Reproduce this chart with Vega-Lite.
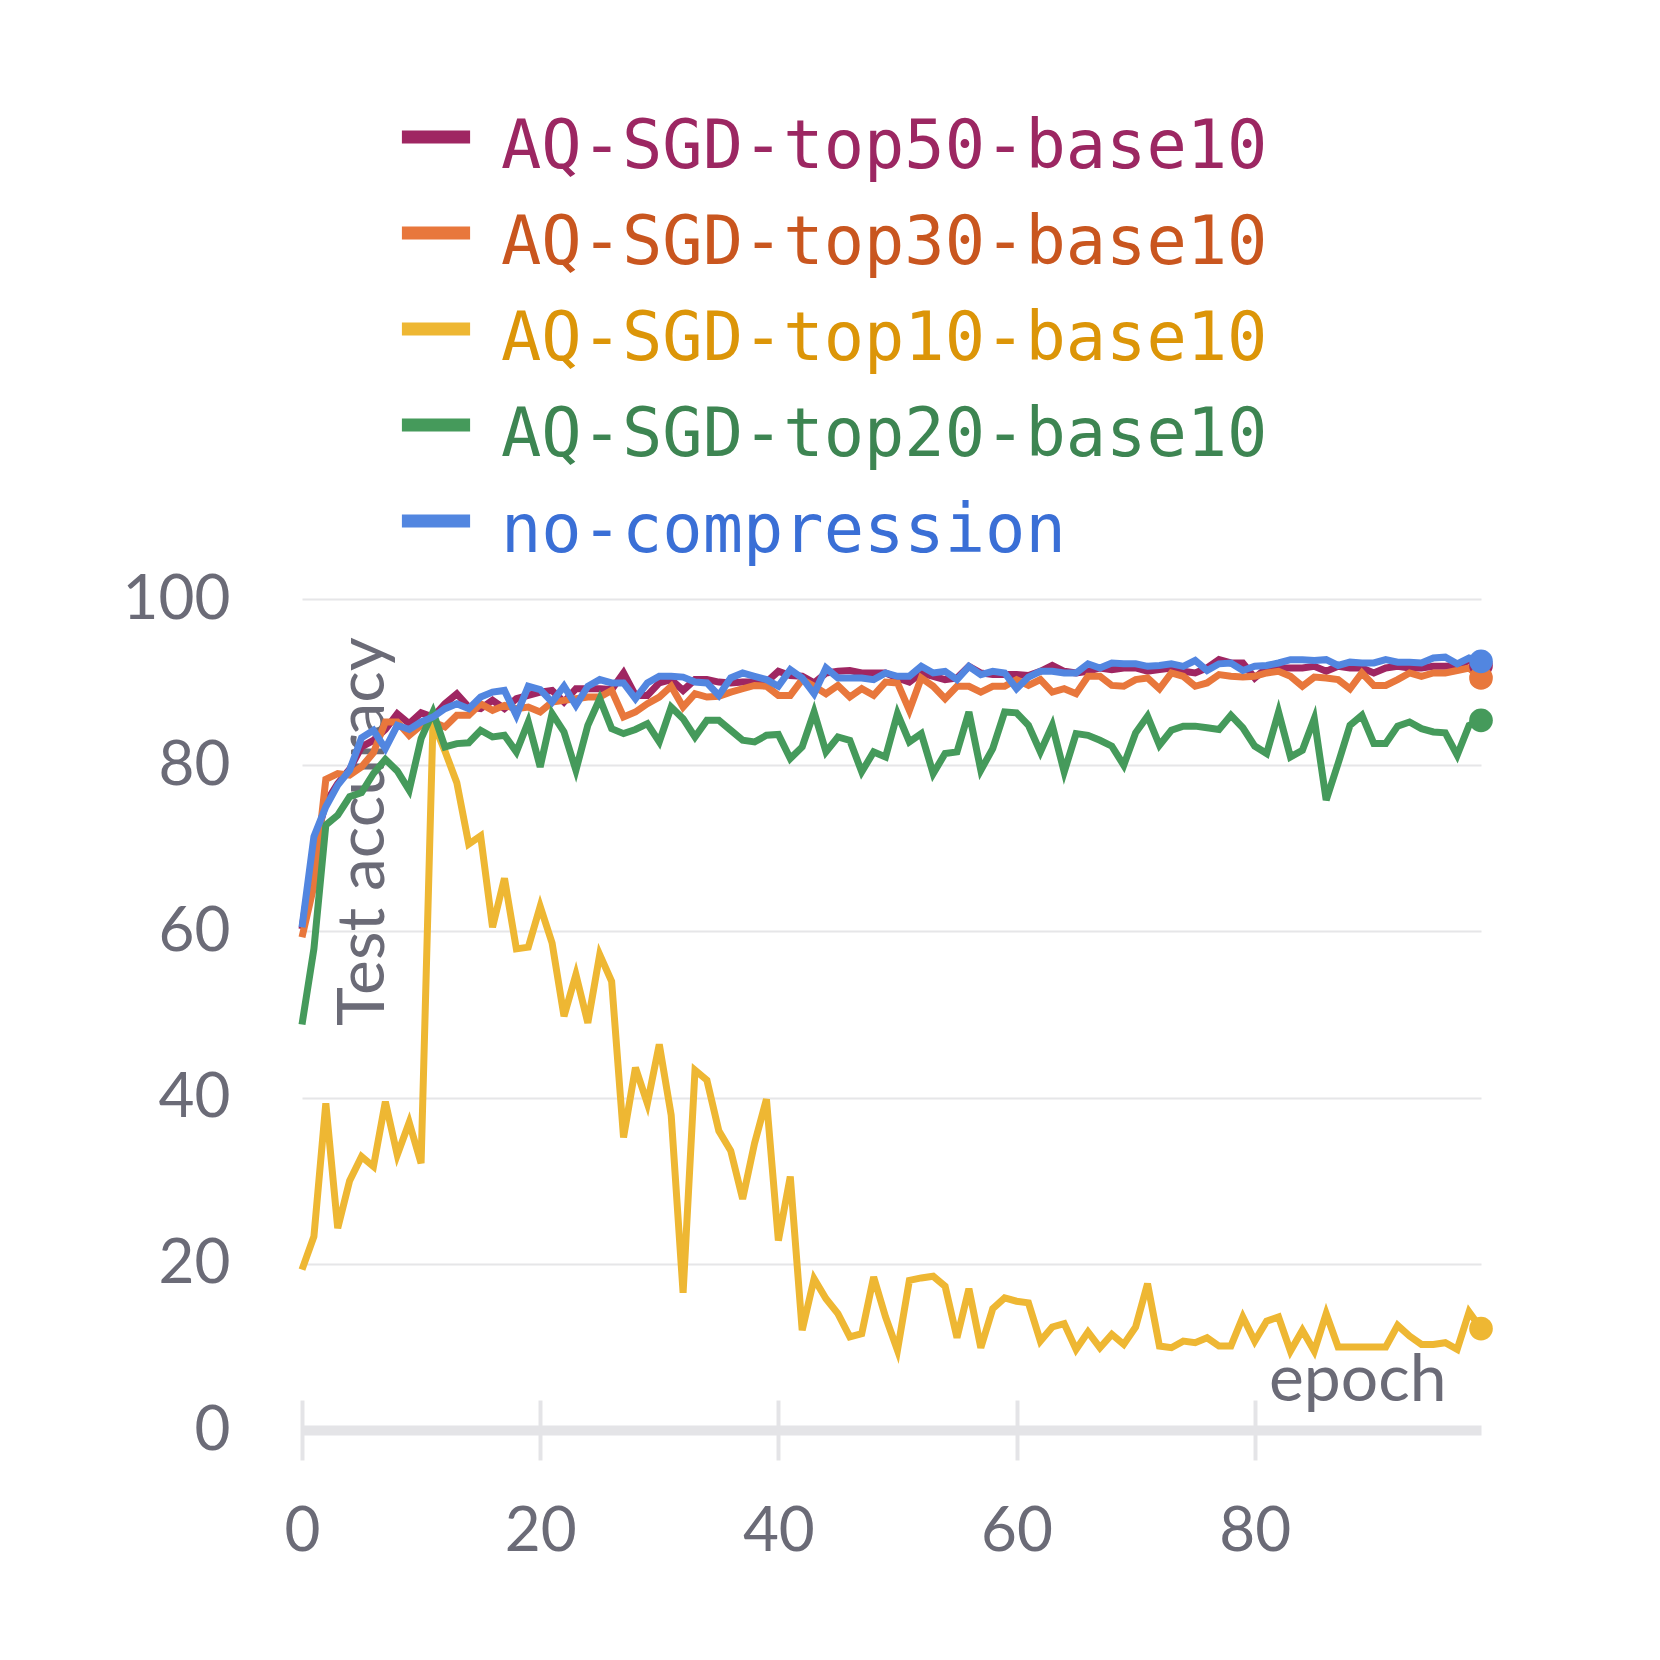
{
  "$schema": "https://vega.github.io/schema/vega-lite/v6.json",
  "width": 1179,
  "height": 831,
  "autosize": {"type": "none"},
  "padding": {"left": 302, "top": 599, "right": 179, "bottom": 230},
  "background": "white",
  "data": {
    "values": [
      {"run":"AQ-SGD-top50-base10","epoch":0,"acc":60.3},{"run":"AQ-SGD-top50-base10","epoch":1,"acc":70.0},{"run":"AQ-SGD-top50-base10","epoch":2,"acc":75.5},{"run":"AQ-SGD-top50-base10","epoch":3,"acc":77.8},{"run":"AQ-SGD-top50-base10","epoch":4,"acc":79.5},
      {"run":"AQ-SGD-top50-base10","epoch":5,"acc":82.2},{"run":"AQ-SGD-top50-base10","epoch":6,"acc":83.0},{"run":"AQ-SGD-top50-base10","epoch":7,"acc":84.3},{"run":"AQ-SGD-top50-base10","epoch":8,"acc":86.2},{"run":"AQ-SGD-top50-base10","epoch":9,"acc":85.0},
      {"run":"AQ-SGD-top50-base10","epoch":10,"acc":86.3},{"run":"AQ-SGD-top50-base10","epoch":11,"acc":85.8},{"run":"AQ-SGD-top50-base10","epoch":12,"acc":87.4},{"run":"AQ-SGD-top50-base10","epoch":13,"acc":88.6},{"run":"AQ-SGD-top50-base10","epoch":14,"acc":87.0},
      {"run":"AQ-SGD-top50-base10","epoch":15,"acc":86.8},{"run":"AQ-SGD-top50-base10","epoch":16,"acc":87.8},{"run":"AQ-SGD-top50-base10","epoch":17,"acc":86.8},{"run":"AQ-SGD-top50-base10","epoch":18,"acc":88.0},{"run":"AQ-SGD-top50-base10","epoch":19,"acc":88.4},
      {"run":"AQ-SGD-top50-base10","epoch":20,"acc":88.8},{"run":"AQ-SGD-top50-base10","epoch":21,"acc":89.0},{"run":"AQ-SGD-top50-base10","epoch":22,"acc":87.6},{"run":"AQ-SGD-top50-base10","epoch":23,"acc":89.2},{"run":"AQ-SGD-top50-base10","epoch":24,"acc":89.2},
      {"run":"AQ-SGD-top50-base10","epoch":25,"acc":89.2},{"run":"AQ-SGD-top50-base10","epoch":26,"acc":89.1},{"run":"AQ-SGD-top50-base10","epoch":27,"acc":91.1},{"run":"AQ-SGD-top50-base10","epoch":28,"acc":88.4},{"run":"AQ-SGD-top50-base10","epoch":29,"acc":88.4},
      {"run":"AQ-SGD-top50-base10","epoch":30,"acc":89.9},{"run":"AQ-SGD-top50-base10","epoch":31,"acc":90.3},{"run":"AQ-SGD-top50-base10","epoch":32,"acc":89.0},{"run":"AQ-SGD-top50-base10","epoch":33,"acc":90.3},{"run":"AQ-SGD-top50-base10","epoch":34,"acc":90.3},
      {"run":"AQ-SGD-top50-base10","epoch":35,"acc":90.0},{"run":"AQ-SGD-top50-base10","epoch":36,"acc":89.9},{"run":"AQ-SGD-top50-base10","epoch":37,"acc":90.0},{"run":"AQ-SGD-top50-base10","epoch":38,"acc":90.0},{"run":"AQ-SGD-top50-base10","epoch":39,"acc":90.0},
      {"run":"AQ-SGD-top50-base10","epoch":40,"acc":91.3},{"run":"AQ-SGD-top50-base10","epoch":41,"acc":90.8},{"run":"AQ-SGD-top50-base10","epoch":42,"acc":90.7},{"run":"AQ-SGD-top50-base10","epoch":43,"acc":89.9},{"run":"AQ-SGD-top50-base10","epoch":44,"acc":91.1},
      {"run":"AQ-SGD-top50-base10","epoch":45,"acc":91.3},{"run":"AQ-SGD-top50-base10","epoch":46,"acc":91.4},{"run":"AQ-SGD-top50-base10","epoch":47,"acc":91.1},{"run":"AQ-SGD-top50-base10","epoch":48,"acc":91.1},{"run":"AQ-SGD-top50-base10","epoch":49,"acc":91.1},
      {"run":"AQ-SGD-top50-base10","epoch":50,"acc":90.5},{"run":"AQ-SGD-top50-base10","epoch":51,"acc":90.0},{"run":"AQ-SGD-top50-base10","epoch":52,"acc":91.1},{"run":"AQ-SGD-top50-base10","epoch":53,"acc":90.7},{"run":"AQ-SGD-top50-base10","epoch":54,"acc":90.3},
      {"run":"AQ-SGD-top50-base10","epoch":55,"acc":90.5},{"run":"AQ-SGD-top50-base10","epoch":56,"acc":91.9},{"run":"AQ-SGD-top50-base10","epoch":57,"acc":91.1},{"run":"AQ-SGD-top50-base10","epoch":58,"acc":90.9},{"run":"AQ-SGD-top50-base10","epoch":59,"acc":90.9},
      {"run":"AQ-SGD-top50-base10","epoch":60,"acc":90.9},{"run":"AQ-SGD-top50-base10","epoch":61,"acc":90.8},{"run":"AQ-SGD-top50-base10","epoch":62,"acc":91.3},{"run":"AQ-SGD-top50-base10","epoch":63,"acc":92.0},{"run":"AQ-SGD-top50-base10","epoch":64,"acc":91.3},
      {"run":"AQ-SGD-top50-base10","epoch":65,"acc":91.1},{"run":"AQ-SGD-top50-base10","epoch":66,"acc":91.3},{"run":"AQ-SGD-top50-base10","epoch":67,"acc":91.7},{"run":"AQ-SGD-top50-base10","epoch":68,"acc":91.5},{"run":"AQ-SGD-top50-base10","epoch":69,"acc":91.7},
      {"run":"AQ-SGD-top50-base10","epoch":70,"acc":91.7},{"run":"AQ-SGD-top50-base10","epoch":71,"acc":91.3},{"run":"AQ-SGD-top50-base10","epoch":72,"acc":91.5},{"run":"AQ-SGD-top50-base10","epoch":73,"acc":91.7},{"run":"AQ-SGD-top50-base10","epoch":74,"acc":91.3},
      {"run":"AQ-SGD-top50-base10","epoch":75,"acc":91.1},{"run":"AQ-SGD-top50-base10","epoch":76,"acc":91.7},{"run":"AQ-SGD-top50-base10","epoch":77,"acc":92.7},{"run":"AQ-SGD-top50-base10","epoch":78,"acc":92.3},{"run":"AQ-SGD-top50-base10","epoch":79,"acc":92.3},
      {"run":"AQ-SGD-top50-base10","epoch":80,"acc":90.5},{"run":"AQ-SGD-top50-base10","epoch":81,"acc":91.7},{"run":"AQ-SGD-top50-base10","epoch":82,"acc":91.7},{"run":"AQ-SGD-top50-base10","epoch":83,"acc":91.7},{"run":"AQ-SGD-top50-base10","epoch":84,"acc":91.7},
      {"run":"AQ-SGD-top50-base10","epoch":85,"acc":91.9},{"run":"AQ-SGD-top50-base10","epoch":86,"acc":91.3},{"run":"AQ-SGD-top50-base10","epoch":87,"acc":91.9},{"run":"AQ-SGD-top50-base10","epoch":88,"acc":91.7},{"run":"AQ-SGD-top50-base10","epoch":89,"acc":91.7},
      {"run":"AQ-SGD-top50-base10","epoch":90,"acc":91.1},{"run":"AQ-SGD-top50-base10","epoch":91,"acc":91.7},{"run":"AQ-SGD-top50-base10","epoch":92,"acc":91.9},{"run":"AQ-SGD-top50-base10","epoch":93,"acc":91.7},{"run":"AQ-SGD-top50-base10","epoch":94,"acc":91.7},
      {"run":"AQ-SGD-top50-base10","epoch":95,"acc":91.9},{"run":"AQ-SGD-top50-base10","epoch":96,"acc":91.9},{"run":"AQ-SGD-top50-base10","epoch":97,"acc":92.0},{"run":"AQ-SGD-top50-base10","epoch":98,"acc":92.6},{"run":"AQ-SGD-top50-base10","epoch":99,"acc":92.0},

      {"run":"AQ-SGD-top30-base10","epoch":0,"acc":59.3},{"run":"AQ-SGD-top30-base10","epoch":1,"acc":65.5},{"run":"AQ-SGD-top30-base10","epoch":2,"acc":78.3},{"run":"AQ-SGD-top30-base10","epoch":3,"acc":79.0},{"run":"AQ-SGD-top30-base10","epoch":4,"acc":78.8},
      {"run":"AQ-SGD-top30-base10","epoch":5,"acc":79.8},{"run":"AQ-SGD-top30-base10","epoch":6,"acc":81.5},{"run":"AQ-SGD-top30-base10","epoch":7,"acc":85.2},{"run":"AQ-SGD-top30-base10","epoch":8,"acc":85.2},{"run":"AQ-SGD-top30-base10","epoch":9,"acc":83.6},
      {"run":"AQ-SGD-top30-base10","epoch":10,"acc":84.8},{"run":"AQ-SGD-top30-base10","epoch":11,"acc":85.2},{"run":"AQ-SGD-top30-base10","epoch":12,"acc":84.6},{"run":"AQ-SGD-top30-base10","epoch":13,"acc":86.0},{"run":"AQ-SGD-top30-base10","epoch":14,"acc":86.0},
      {"run":"AQ-SGD-top30-base10","epoch":15,"acc":87.4},{"run":"AQ-SGD-top30-base10","epoch":16,"acc":86.6},{"run":"AQ-SGD-top30-base10","epoch":17,"acc":87.2},{"run":"AQ-SGD-top30-base10","epoch":18,"acc":86.8},{"run":"AQ-SGD-top30-base10","epoch":19,"acc":87.0},
      {"run":"AQ-SGD-top30-base10","epoch":20,"acc":86.4},{"run":"AQ-SGD-top30-base10","epoch":21,"acc":87.6},{"run":"AQ-SGD-top30-base10","epoch":22,"acc":87.8},{"run":"AQ-SGD-top30-base10","epoch":23,"acc":88.0},{"run":"AQ-SGD-top30-base10","epoch":24,"acc":88.2},
      {"run":"AQ-SGD-top30-base10","epoch":25,"acc":88.2},{"run":"AQ-SGD-top30-base10","epoch":26,"acc":89.0},{"run":"AQ-SGD-top30-base10","epoch":27,"acc":85.8},{"run":"AQ-SGD-top30-base10","epoch":28,"acc":86.4},{"run":"AQ-SGD-top30-base10","epoch":29,"acc":87.4},
      {"run":"AQ-SGD-top30-base10","epoch":30,"acc":88.2},{"run":"AQ-SGD-top30-base10","epoch":31,"acc":89.5},{"run":"AQ-SGD-top30-base10","epoch":32,"acc":87.0},{"run":"AQ-SGD-top30-base10","epoch":33,"acc":88.6},{"run":"AQ-SGD-top30-base10","epoch":34,"acc":88.2},
      {"run":"AQ-SGD-top30-base10","epoch":35,"acc":88.3},{"run":"AQ-SGD-top30-base10","epoch":36,"acc":88.8},{"run":"AQ-SGD-top30-base10","epoch":37,"acc":89.2},{"run":"AQ-SGD-top30-base10","epoch":38,"acc":89.6},{"run":"AQ-SGD-top30-base10","epoch":39,"acc":89.5},
      {"run":"AQ-SGD-top30-base10","epoch":40,"acc":88.4},{"run":"AQ-SGD-top30-base10","epoch":41,"acc":88.4},{"run":"AQ-SGD-top30-base10","epoch":42,"acc":90.3},{"run":"AQ-SGD-top30-base10","epoch":43,"acc":89.5},{"run":"AQ-SGD-top30-base10","epoch":44,"acc":88.6},
      {"run":"AQ-SGD-top30-base10","epoch":45,"acc":89.6},{"run":"AQ-SGD-top30-base10","epoch":46,"acc":88.2},{"run":"AQ-SGD-top30-base10","epoch":47,"acc":89.2},{"run":"AQ-SGD-top30-base10","epoch":48,"acc":88.4},{"run":"AQ-SGD-top30-base10","epoch":49,"acc":90.0},
      {"run":"AQ-SGD-top30-base10","epoch":50,"acc":89.9},{"run":"AQ-SGD-top30-base10","epoch":51,"acc":86.6},{"run":"AQ-SGD-top30-base10","epoch":52,"acc":90.5},{"run":"AQ-SGD-top30-base10","epoch":53,"acc":89.5},{"run":"AQ-SGD-top30-base10","epoch":54,"acc":88.0},
      {"run":"AQ-SGD-top30-base10","epoch":55,"acc":89.5},{"run":"AQ-SGD-top30-base10","epoch":56,"acc":89.5},{"run":"AQ-SGD-top30-base10","epoch":57,"acc":88.8},{"run":"AQ-SGD-top30-base10","epoch":58,"acc":89.5},{"run":"AQ-SGD-top30-base10","epoch":59,"acc":89.5},
      {"run":"AQ-SGD-top30-base10","epoch":60,"acc":90.3},{"run":"AQ-SGD-top30-base10","epoch":61,"acc":89.6},{"run":"AQ-SGD-top30-base10","epoch":62,"acc":90.3},{"run":"AQ-SGD-top30-base10","epoch":63,"acc":88.8},{"run":"AQ-SGD-top30-base10","epoch":64,"acc":89.2},
      {"run":"AQ-SGD-top30-base10","epoch":65,"acc":88.6},{"run":"AQ-SGD-top30-base10","epoch":66,"acc":90.7},{"run":"AQ-SGD-top30-base10","epoch":67,"acc":90.7},{"run":"AQ-SGD-top30-base10","epoch":68,"acc":89.6},{"run":"AQ-SGD-top30-base10","epoch":69,"acc":89.5},
      {"run":"AQ-SGD-top30-base10","epoch":70,"acc":90.3},{"run":"AQ-SGD-top30-base10","epoch":71,"acc":90.5},{"run":"AQ-SGD-top30-base10","epoch":72,"acc":89.2},{"run":"AQ-SGD-top30-base10","epoch":73,"acc":91.1},{"run":"AQ-SGD-top30-base10","epoch":74,"acc":90.7},
      {"run":"AQ-SGD-top30-base10","epoch":75,"acc":89.5},{"run":"AQ-SGD-top30-base10","epoch":76,"acc":89.9},{"run":"AQ-SGD-top30-base10","epoch":77,"acc":90.9},{"run":"AQ-SGD-top30-base10","epoch":78,"acc":90.7},{"run":"AQ-SGD-top30-base10","epoch":79,"acc":90.6},
      {"run":"AQ-SGD-top30-base10","epoch":80,"acc":90.7},{"run":"AQ-SGD-top30-base10","epoch":81,"acc":91.1},{"run":"AQ-SGD-top30-base10","epoch":82,"acc":91.3},{"run":"AQ-SGD-top30-base10","epoch":83,"acc":90.7},{"run":"AQ-SGD-top30-base10","epoch":84,"acc":89.5},
      {"run":"AQ-SGD-top30-base10","epoch":85,"acc":90.6},{"run":"AQ-SGD-top30-base10","epoch":86,"acc":90.5},{"run":"AQ-SGD-top30-base10","epoch":87,"acc":90.3},{"run":"AQ-SGD-top30-base10","epoch":88,"acc":89.2},{"run":"AQ-SGD-top30-base10","epoch":89,"acc":91.1},
      {"run":"AQ-SGD-top30-base10","epoch":90,"acc":89.6},{"run":"AQ-SGD-top30-base10","epoch":91,"acc":89.6},{"run":"AQ-SGD-top30-base10","epoch":92,"acc":90.3},{"run":"AQ-SGD-top30-base10","epoch":93,"acc":91.1},{"run":"AQ-SGD-top30-base10","epoch":94,"acc":90.7},
      {"run":"AQ-SGD-top30-base10","epoch":95,"acc":91.1},{"run":"AQ-SGD-top30-base10","epoch":96,"acc":91.1},{"run":"AQ-SGD-top30-base10","epoch":97,"acc":91.4},{"run":"AQ-SGD-top30-base10","epoch":98,"acc":91.7},{"run":"AQ-SGD-top30-base10","epoch":99,"acc":90.5},

      {"run":"AQ-SGD-top10-base10","epoch":0,"acc":19.3},{"run":"AQ-SGD-top10-base10","epoch":1,"acc":23.3},{"run":"AQ-SGD-top10-base10","epoch":2,"acc":39.3},{"run":"AQ-SGD-top10-base10","epoch":3,"acc":24.3},{"run":"AQ-SGD-top10-base10","epoch":4,"acc":30.0},
      {"run":"AQ-SGD-top10-base10","epoch":5,"acc":32.9},{"run":"AQ-SGD-top10-base10","epoch":6,"acc":31.7},{"run":"AQ-SGD-top10-base10","epoch":7,"acc":39.5},{"run":"AQ-SGD-top10-base10","epoch":8,"acc":33.1},{"run":"AQ-SGD-top10-base10","epoch":9,"acc":37.0},
      {"run":"AQ-SGD-top10-base10","epoch":10,"acc":32.1},{"run":"AQ-SGD-top10-base10","epoch":11,"acc":85.2},{"run":"AQ-SGD-top10-base10","epoch":12,"acc":81.7},{"run":"AQ-SGD-top10-base10","epoch":13,"acc":77.9},{"run":"AQ-SGD-top10-base10","epoch":14,"acc":70.5},
      {"run":"AQ-SGD-top10-base10","epoch":15,"acc":71.5},{"run":"AQ-SGD-top10-base10","epoch":16,"acc":60.5},{"run":"AQ-SGD-top10-base10","epoch":17,"acc":66.4},{"run":"AQ-SGD-top10-base10","epoch":18,"acc":57.9},{"run":"AQ-SGD-top10-base10","epoch":19,"acc":58.1},
      {"run":"AQ-SGD-top10-base10","epoch":20,"acc":63.0},{"run":"AQ-SGD-top10-base10","epoch":21,"acc":58.6},{"run":"AQ-SGD-top10-base10","epoch":22,"acc":49.8},{"run":"AQ-SGD-top10-base10","epoch":23,"acc":54.8},{"run":"AQ-SGD-top10-base10","epoch":24,"acc":49.0},
      {"run":"AQ-SGD-top10-base10","epoch":25,"acc":57.2},{"run":"AQ-SGD-top10-base10","epoch":26,"acc":54.0},{"run":"AQ-SGD-top10-base10","epoch":27,"acc":35.2},{"run":"AQ-SGD-top10-base10","epoch":28,"acc":43.6},{"run":"AQ-SGD-top10-base10","epoch":29,"acc":39.3},
      {"run":"AQ-SGD-top10-base10","epoch":30,"acc":46.4},{"run":"AQ-SGD-top10-base10","epoch":31,"acc":37.9},{"run":"AQ-SGD-top10-base10","epoch":32,"acc":16.5},{"run":"AQ-SGD-top10-base10","epoch":33,"acc":43.3},{"run":"AQ-SGD-top10-base10","epoch":34,"acc":42.1},
      {"run":"AQ-SGD-top10-base10","epoch":35,"acc":36.0},{"run":"AQ-SGD-top10-base10","epoch":36,"acc":33.6},{"run":"AQ-SGD-top10-base10","epoch":37,"acc":27.8},{"run":"AQ-SGD-top10-base10","epoch":38,"acc":34.5},{"run":"AQ-SGD-top10-base10","epoch":39,"acc":39.8},
      {"run":"AQ-SGD-top10-base10","epoch":40,"acc":22.8},{"run":"AQ-SGD-top10-base10","epoch":41,"acc":30.5},{"run":"AQ-SGD-top10-base10","epoch":42,"acc":12.0},{"run":"AQ-SGD-top10-base10","epoch":43,"acc":18.2},{"run":"AQ-SGD-top10-base10","epoch":44,"acc":15.8},
      {"run":"AQ-SGD-top10-base10","epoch":45,"acc":14.0},{"run":"AQ-SGD-top10-base10","epoch":46,"acc":11.2},{"run":"AQ-SGD-top10-base10","epoch":47,"acc":11.6},{"run":"AQ-SGD-top10-base10","epoch":48,"acc":18.4},{"run":"AQ-SGD-top10-base10","epoch":49,"acc":13.6},
      {"run":"AQ-SGD-top10-base10","epoch":50,"acc":9.6},{"run":"AQ-SGD-top10-base10","epoch":51,"acc":18.0},{"run":"AQ-SGD-top10-base10","epoch":52,"acc":18.3},{"run":"AQ-SGD-top10-base10","epoch":53,"acc":18.5},{"run":"AQ-SGD-top10-base10","epoch":54,"acc":17.3},
      {"run":"AQ-SGD-top10-base10","epoch":55,"acc":11.1},{"run":"AQ-SGD-top10-base10","epoch":56,"acc":17.0},{"run":"AQ-SGD-top10-base10","epoch":57,"acc":9.9},{"run":"AQ-SGD-top10-base10","epoch":58,"acc":14.6},{"run":"AQ-SGD-top10-base10","epoch":59,"acc":15.9},
      {"run":"AQ-SGD-top10-base10","epoch":60,"acc":15.5},{"run":"AQ-SGD-top10-base10","epoch":61,"acc":15.3},{"run":"AQ-SGD-top10-base10","epoch":62,"acc":10.7},{"run":"AQ-SGD-top10-base10","epoch":63,"acc":12.4},{"run":"AQ-SGD-top10-base10","epoch":64,"acc":12.8},
      {"run":"AQ-SGD-top10-base10","epoch":65,"acc":9.7},{"run":"AQ-SGD-top10-base10","epoch":66,"acc":11.8},{"run":"AQ-SGD-top10-base10","epoch":67,"acc":9.9},{"run":"AQ-SGD-top10-base10","epoch":68,"acc":11.5},{"run":"AQ-SGD-top10-base10","epoch":69,"acc":10.3},
      {"run":"AQ-SGD-top10-base10","epoch":70,"acc":12.4},{"run":"AQ-SGD-top10-base10","epoch":71,"acc":17.6},{"run":"AQ-SGD-top10-base10","epoch":72,"acc":10.1},{"run":"AQ-SGD-top10-base10","epoch":73,"acc":9.9},{"run":"AQ-SGD-top10-base10","epoch":74,"acc":10.7},
      {"run":"AQ-SGD-top10-base10","epoch":75,"acc":10.5},{"run":"AQ-SGD-top10-base10","epoch":76,"acc":11.1},{"run":"AQ-SGD-top10-base10","epoch":77,"acc":10.1},{"run":"AQ-SGD-top10-base10","epoch":78,"acc":10.1},{"run":"AQ-SGD-top10-base10","epoch":79,"acc":13.6},
      {"run":"AQ-SGD-top10-base10","epoch":80,"acc":10.7},{"run":"AQ-SGD-top10-base10","epoch":81,"acc":13.1},{"run":"AQ-SGD-top10-base10","epoch":82,"acc":13.6},{"run":"AQ-SGD-top10-base10","epoch":83,"acc":9.5},{"run":"AQ-SGD-top10-base10","epoch":84,"acc":12.0},
      {"run":"AQ-SGD-top10-base10","epoch":85,"acc":9.5},{"run":"AQ-SGD-top10-base10","epoch":86,"acc":14.0},{"run":"AQ-SGD-top10-base10","epoch":87,"acc":10.0},{"run":"AQ-SGD-top10-base10","epoch":88,"acc":10.0},{"run":"AQ-SGD-top10-base10","epoch":89,"acc":10.0},
      {"run":"AQ-SGD-top10-base10","epoch":90,"acc":10.0},{"run":"AQ-SGD-top10-base10","epoch":91,"acc":10.0},{"run":"AQ-SGD-top10-base10","epoch":92,"acc":12.6},{"run":"AQ-SGD-top10-base10","epoch":93,"acc":11.3},{"run":"AQ-SGD-top10-base10","epoch":94,"acc":10.3},
      {"run":"AQ-SGD-top10-base10","epoch":95,"acc":10.3},{"run":"AQ-SGD-top10-base10","epoch":96,"acc":10.5},{"run":"AQ-SGD-top10-base10","epoch":97,"acc":9.7},{"run":"AQ-SGD-top10-base10","epoch":98,"acc":14.2},{"run":"AQ-SGD-top10-base10","epoch":99,"acc":12.2},

      {"run":"AQ-SGD-top20-base10","epoch":0,"acc":48.8},{"run":"AQ-SGD-top20-base10","epoch":1,"acc":57.9},{"run":"AQ-SGD-top20-base10","epoch":2,"acc":72.8},{"run":"AQ-SGD-top20-base10","epoch":3,"acc":74.0},{"run":"AQ-SGD-top20-base10","epoch":4,"acc":76.2},
      {"run":"AQ-SGD-top20-base10","epoch":5,"acc":76.7},{"run":"AQ-SGD-top20-base10","epoch":6,"acc":79.0},{"run":"AQ-SGD-top20-base10","epoch":7,"acc":80.7},{"run":"AQ-SGD-top20-base10","epoch":8,"acc":79.3},{"run":"AQ-SGD-top20-base10","epoch":9,"acc":77.0},
      {"run":"AQ-SGD-top20-base10","epoch":10,"acc":83.2},{"run":"AQ-SGD-top20-base10","epoch":11,"acc":86.4},{"run":"AQ-SGD-top20-base10","epoch":12,"acc":82.2},{"run":"AQ-SGD-top20-base10","epoch":13,"acc":82.6},{"run":"AQ-SGD-top20-base10","epoch":14,"acc":82.7},
      {"run":"AQ-SGD-top20-base10","epoch":15,"acc":84.2},{"run":"AQ-SGD-top20-base10","epoch":16,"acc":83.4},{"run":"AQ-SGD-top20-base10","epoch":17,"acc":83.6},{"run":"AQ-SGD-top20-base10","epoch":18,"acc":81.6},{"run":"AQ-SGD-top20-base10","epoch":19,"acc":85.2},
      {"run":"AQ-SGD-top20-base10","epoch":20,"acc":79.8},{"run":"AQ-SGD-top20-base10","epoch":21,"acc":86.2},{"run":"AQ-SGD-top20-base10","epoch":22,"acc":84.0},{"run":"AQ-SGD-top20-base10","epoch":23,"acc":79.4},{"run":"AQ-SGD-top20-base10","epoch":24,"acc":84.8},
      {"run":"AQ-SGD-top20-base10","epoch":25,"acc":88.0},{"run":"AQ-SGD-top20-base10","epoch":26,"acc":84.4},{"run":"AQ-SGD-top20-base10","epoch":27,"acc":83.8},{"run":"AQ-SGD-top20-base10","epoch":28,"acc":84.3},{"run":"AQ-SGD-top20-base10","epoch":29,"acc":85.0},
      {"run":"AQ-SGD-top20-base10","epoch":30,"acc":82.8},{"run":"AQ-SGD-top20-base10","epoch":31,"acc":87.0},{"run":"AQ-SGD-top20-base10","epoch":32,"acc":85.6},{"run":"AQ-SGD-top20-base10","epoch":33,"acc":83.4},{"run":"AQ-SGD-top20-base10","epoch":34,"acc":85.4},
      {"run":"AQ-SGD-top20-base10","epoch":35,"acc":85.4},{"run":"AQ-SGD-top20-base10","epoch":36,"acc":84.2},{"run":"AQ-SGD-top20-base10","epoch":37,"acc":83.0},{"run":"AQ-SGD-top20-base10","epoch":38,"acc":82.8},{"run":"AQ-SGD-top20-base10","epoch":39,"acc":83.6},
      {"run":"AQ-SGD-top20-base10","epoch":40,"acc":83.7},{"run":"AQ-SGD-top20-base10","epoch":41,"acc":80.8},{"run":"AQ-SGD-top20-base10","epoch":42,"acc":82.2},{"run":"AQ-SGD-top20-base10","epoch":43,"acc":86.4},{"run":"AQ-SGD-top20-base10","epoch":44,"acc":81.6},
      {"run":"AQ-SGD-top20-base10","epoch":45,"acc":83.4},{"run":"AQ-SGD-top20-base10","epoch":46,"acc":83.0},{"run":"AQ-SGD-top20-base10","epoch":47,"acc":79.2},{"run":"AQ-SGD-top20-base10","epoch":48,"acc":81.6},{"run":"AQ-SGD-top20-base10","epoch":49,"acc":81.0},
      {"run":"AQ-SGD-top20-base10","epoch":50,"acc":86.2},{"run":"AQ-SGD-top20-base10","epoch":51,"acc":82.8},{"run":"AQ-SGD-top20-base10","epoch":52,"acc":83.8},{"run":"AQ-SGD-top20-base10","epoch":53,"acc":79.0},{"run":"AQ-SGD-top20-base10","epoch":54,"acc":81.4},
      {"run":"AQ-SGD-top20-base10","epoch":55,"acc":81.6},{"run":"AQ-SGD-top20-base10","epoch":56,"acc":86.4},{"run":"AQ-SGD-top20-base10","epoch":57,"acc":79.4},{"run":"AQ-SGD-top20-base10","epoch":58,"acc":82.0},{"run":"AQ-SGD-top20-base10","epoch":59,"acc":86.4},
      {"run":"AQ-SGD-top20-base10","epoch":60,"acc":86.3},{"run":"AQ-SGD-top20-base10","epoch":61,"acc":84.8},{"run":"AQ-SGD-top20-base10","epoch":62,"acc":81.6},{"run":"AQ-SGD-top20-base10","epoch":63,"acc":84.8},{"run":"AQ-SGD-top20-base10","epoch":64,"acc":79.2},
      {"run":"AQ-SGD-top20-base10","epoch":65,"acc":83.8},{"run":"AQ-SGD-top20-base10","epoch":66,"acc":83.6},{"run":"AQ-SGD-top20-base10","epoch":67,"acc":83.0},{"run":"AQ-SGD-top20-base10","epoch":68,"acc":82.3},{"run":"AQ-SGD-top20-base10","epoch":69,"acc":80.0},
      {"run":"AQ-SGD-top20-base10","epoch":70,"acc":83.9},{"run":"AQ-SGD-top20-base10","epoch":71,"acc":85.9},{"run":"AQ-SGD-top20-base10","epoch":72,"acc":82.4},{"run":"AQ-SGD-top20-base10","epoch":73,"acc":84.2},{"run":"AQ-SGD-top20-base10","epoch":74,"acc":84.7},
      {"run":"AQ-SGD-top20-base10","epoch":75,"acc":84.7},{"run":"AQ-SGD-top20-base10","epoch":76,"acc":84.5},{"run":"AQ-SGD-top20-base10","epoch":77,"acc":84.3},{"run":"AQ-SGD-top20-base10","epoch":78,"acc":86.0},{"run":"AQ-SGD-top20-base10","epoch":79,"acc":84.5},
      {"run":"AQ-SGD-top20-base10","epoch":80,"acc":82.3},{"run":"AQ-SGD-top20-base10","epoch":81,"acc":81.4},{"run":"AQ-SGD-top20-base10","epoch":82,"acc":86.4},{"run":"AQ-SGD-top20-base10","epoch":83,"acc":81.0},{"run":"AQ-SGD-top20-base10","epoch":84,"acc":81.8},
      {"run":"AQ-SGD-top20-base10","epoch":85,"acc":85.6},{"run":"AQ-SGD-top20-base10","epoch":86,"acc":75.8},{"run":"AQ-SGD-top20-base10","epoch":87,"acc":80.2},{"run":"AQ-SGD-top20-base10","epoch":88,"acc":84.8},{"run":"AQ-SGD-top20-base10","epoch":89,"acc":86.0},
      {"run":"AQ-SGD-top20-base10","epoch":90,"acc":82.6},{"run":"AQ-SGD-top20-base10","epoch":91,"acc":82.6},{"run":"AQ-SGD-top20-base10","epoch":92,"acc":84.7},{"run":"AQ-SGD-top20-base10","epoch":93,"acc":85.2},{"run":"AQ-SGD-top20-base10","epoch":94,"acc":84.4},
      {"run":"AQ-SGD-top20-base10","epoch":95,"acc":84.0},{"run":"AQ-SGD-top20-base10","epoch":96,"acc":83.9},{"run":"AQ-SGD-top20-base10","epoch":97,"acc":81.2},{"run":"AQ-SGD-top20-base10","epoch":98,"acc":84.8},{"run":"AQ-SGD-top20-base10","epoch":99,"acc":85.4},

      {"run":"no-compression","epoch":0,"acc":60.5},{"run":"no-compression","epoch":1,"acc":71.4},{"run":"no-compression","epoch":2,"acc":75.0},{"run":"no-compression","epoch":3,"acc":77.6},{"run":"no-compression","epoch":4,"acc":79.4},
      {"run":"no-compression","epoch":5,"acc":83.3},{"run":"no-compression","epoch":6,"acc":84.2},{"run":"no-compression","epoch":7,"acc":82.0},{"run":"no-compression","epoch":8,"acc":84.8},{"run":"no-compression","epoch":9,"acc":84.3},
      {"run":"no-compression","epoch":10,"acc":85.2},{"run":"no-compression","epoch":11,"acc":85.8},{"run":"no-compression","epoch":12,"acc":86.8},{"run":"no-compression","epoch":13,"acc":87.4},{"run":"no-compression","epoch":14,"acc":86.8},
      {"run":"no-compression","epoch":15,"acc":88.2},{"run":"no-compression","epoch":16,"acc":88.8},{"run":"no-compression","epoch":17,"acc":89.0},{"run":"no-compression","epoch":18,"acc":86.0},{"run":"no-compression","epoch":19,"acc":89.5},
      {"run":"no-compression","epoch":20,"acc":89.1},{"run":"no-compression","epoch":21,"acc":87.6},{"run":"no-compression","epoch":22,"acc":89.5},{"run":"no-compression","epoch":23,"acc":87.2},{"run":"no-compression","epoch":24,"acc":89.5},
      {"run":"no-compression","epoch":25,"acc":90.3},{"run":"no-compression","epoch":26,"acc":89.9},{"run":"no-compression","epoch":27,"acc":89.9},{"run":"no-compression","epoch":28,"acc":88.0},{"run":"no-compression","epoch":29,"acc":89.9},
      {"run":"no-compression","epoch":30,"acc":90.7},{"run":"no-compression","epoch":31,"acc":90.7},{"run":"no-compression","epoch":32,"acc":90.6},{"run":"no-compression","epoch":33,"acc":90.0},{"run":"no-compression","epoch":34,"acc":89.9},
      {"run":"no-compression","epoch":35,"acc":88.4},{"run":"no-compression","epoch":36,"acc":90.5},{"run":"no-compression","epoch":37,"acc":91.1},{"run":"no-compression","epoch":38,"acc":90.7},{"run":"no-compression","epoch":39,"acc":90.3},
      {"run":"no-compression","epoch":40,"acc":89.5},{"run":"no-compression","epoch":41,"acc":91.5},{"run":"no-compression","epoch":42,"acc":90.5},{"run":"no-compression","epoch":43,"acc":88.6},{"run":"no-compression","epoch":44,"acc":91.7},
      {"run":"no-compression","epoch":45,"acc":90.5},{"run":"no-compression","epoch":46,"acc":90.5},{"run":"no-compression","epoch":47,"acc":90.5},{"run":"no-compression","epoch":48,"acc":90.3},{"run":"no-compression","epoch":49,"acc":91.1},
      {"run":"no-compression","epoch":50,"acc":90.7},{"run":"no-compression","epoch":51,"acc":90.7},{"run":"no-compression","epoch":52,"acc":91.9},{"run":"no-compression","epoch":53,"acc":91.1},{"run":"no-compression","epoch":54,"acc":91.3},
      {"run":"no-compression","epoch":55,"acc":90.3},{"run":"no-compression","epoch":56,"acc":91.9},{"run":"no-compression","epoch":57,"acc":90.9},{"run":"no-compression","epoch":58,"acc":91.3},{"run":"no-compression","epoch":59,"acc":91.1},
      {"run":"no-compression","epoch":60,"acc":89.2},{"run":"no-compression","epoch":61,"acc":90.6},{"run":"no-compression","epoch":62,"acc":91.3},{"run":"no-compression","epoch":63,"acc":91.3},{"run":"no-compression","epoch":64,"acc":91.1},
      {"run":"no-compression","epoch":65,"acc":91.1},{"run":"no-compression","epoch":66,"acc":92.2},{"run":"no-compression","epoch":67,"acc":91.7},{"run":"no-compression","epoch":68,"acc":92.3},{"run":"no-compression","epoch":69,"acc":92.2},
      {"run":"no-compression","epoch":70,"acc":92.2},{"run":"no-compression","epoch":71,"acc":91.9},{"run":"no-compression","epoch":72,"acc":92.0},{"run":"no-compression","epoch":73,"acc":92.2},{"run":"no-compression","epoch":74,"acc":91.9},
      {"run":"no-compression","epoch":75,"acc":92.6},{"run":"no-compression","epoch":76,"acc":91.4},{"run":"no-compression","epoch":77,"acc":92.2},{"run":"no-compression","epoch":78,"acc":92.3},{"run":"no-compression","epoch":79,"acc":91.4},
      {"run":"no-compression","epoch":80,"acc":91.9},{"run":"no-compression","epoch":81,"acc":92.0},{"run":"no-compression","epoch":82,"acc":92.3},{"run":"no-compression","epoch":83,"acc":92.7},{"run":"no-compression","epoch":84,"acc":92.7},
      {"run":"no-compression","epoch":85,"acc":92.6},{"run":"no-compression","epoch":86,"acc":92.7},{"run":"no-compression","epoch":87,"acc":92.0},{"run":"no-compression","epoch":88,"acc":92.4},{"run":"no-compression","epoch":89,"acc":92.3},
      {"run":"no-compression","epoch":90,"acc":92.3},{"run":"no-compression","epoch":91,"acc":92.7},{"run":"no-compression","epoch":92,"acc":92.4},{"run":"no-compression","epoch":93,"acc":92.4},{"run":"no-compression","epoch":94,"acc":92.3},
      {"run":"no-compression","epoch":95,"acc":92.9},{"run":"no-compression","epoch":96,"acc":93.0},{"run":"no-compression","epoch":97,"acc":92.2},{"run":"no-compression","epoch":98,"acc":92.9},{"run":"no-compression","epoch":99,"acc":92.5}
    ]
  },
  "encoding": {
    "x": {
      "field": "epoch",
      "type": "quantitative",
      "scale": {"domain": [0, 99], "nice": false, "zero": false},
      "axis": {
        "values": [0, 20, 40, 60, 80],
        "domain": false,
        "grid": false,
        "offset": -30,
        "tickSize": 60,
        "tickWidth": 4,
        "tickColor": "#e4e4e7",
        "labelPadding": 41,
        "labelFlush": false,
        "title": "epoch",
        "titleX": 1144,
        "titleY": 0,
        "titleAlign": "right",
        "titleBaseline": "alphabetic"
      }
    },
    "y": {
      "field": "acc",
      "type": "quantitative",
      "scale": {"domain": [0, 100], "nice": false},
      "axis": {
        "values": [0, 20, 40, 60, 80, 100],
        "domain": false,
        "ticks": false,
        "labelPadding": 72,
        "labelFlush": false,
        "grid": true,
        "gridColor": {"condition": {"test": "datum.value === 0", "value": "#e4e4e7"}, "value": "#e6e6e8"},
        "gridWidth": {"condition": {"test": "datum.value === 0", "value": 10}, "value": 2},
        "title": "Test accuracy",
        "titleX": 81,
        "titleY": 232,
        "titleAngle": -90,
        "titleAlign": "center",
        "titleBaseline": "alphabetic"
      }
    }
  },
  "layer": [
    {
      "mark": {"type": "line", "strokeWidth": 7},
      "encoding": {
        "color": {
          "field": "run",
          "type": "nominal",
          "scale": {
            "domain": ["AQ-SGD-top50-base10", "AQ-SGD-top30-base10", "AQ-SGD-top10-base10", "AQ-SGD-top20-base10", "no-compression"],
            "range": ["#9f2662", "#e8773c", "#eeb733", "#459a5b", "#5286e0"]
          },
          "legend": {
            "title": null,
            "orient": "none",
            "legendX": 93,
            "legendY": -503,
            "padding": 0,
            "symbolType": "stroke",
            "symbolSize": 4650,
            "symbolStrokeWidth": 13,
            "labelFont": "DejaVu Sans Mono",
            "labelFontSize": 67,
            "labelOffset": 24,
            "labelLimit": 2000,
            "rowPadding": 11,
            "encode": {
              "labels": {
                "update": {
                  "fill": {"signal": "datum.value === 'AQ-SGD-top50-base10' ? '#9c2762' : datum.value === 'AQ-SGD-top30-base10' ? '#c9561f' : datum.value === 'AQ-SGD-top10-base10' ? '#dc9508' : datum.value === 'AQ-SGD-top20-base10' ? '#3d8552' : '#3a6fd6'"},
                  "dy": {"value": 11}
                }
              }
            }
          }
        }
      }
    },
    {
      "transform": [{"filter": "datum.epoch === 99"}],
      "mark": {"type": "circle", "size": 560, "opacity": 1},
      "encoding": {
        "color": {"field": "run", "type": "nominal", "legend": null}
      }
    }
  ],
  "config": {
    "view": {"stroke": null},
    "axis": {
      "labelFont": "Lato",
      "labelFontSize": 62,
      "labelColor": "#6b6b77",
      "titleFont": "Lato",
      "titleFontSize": 66,
      "titleFontWeight": "normal",
      "titleColor": "#6b6b77"
    }
  }
}
